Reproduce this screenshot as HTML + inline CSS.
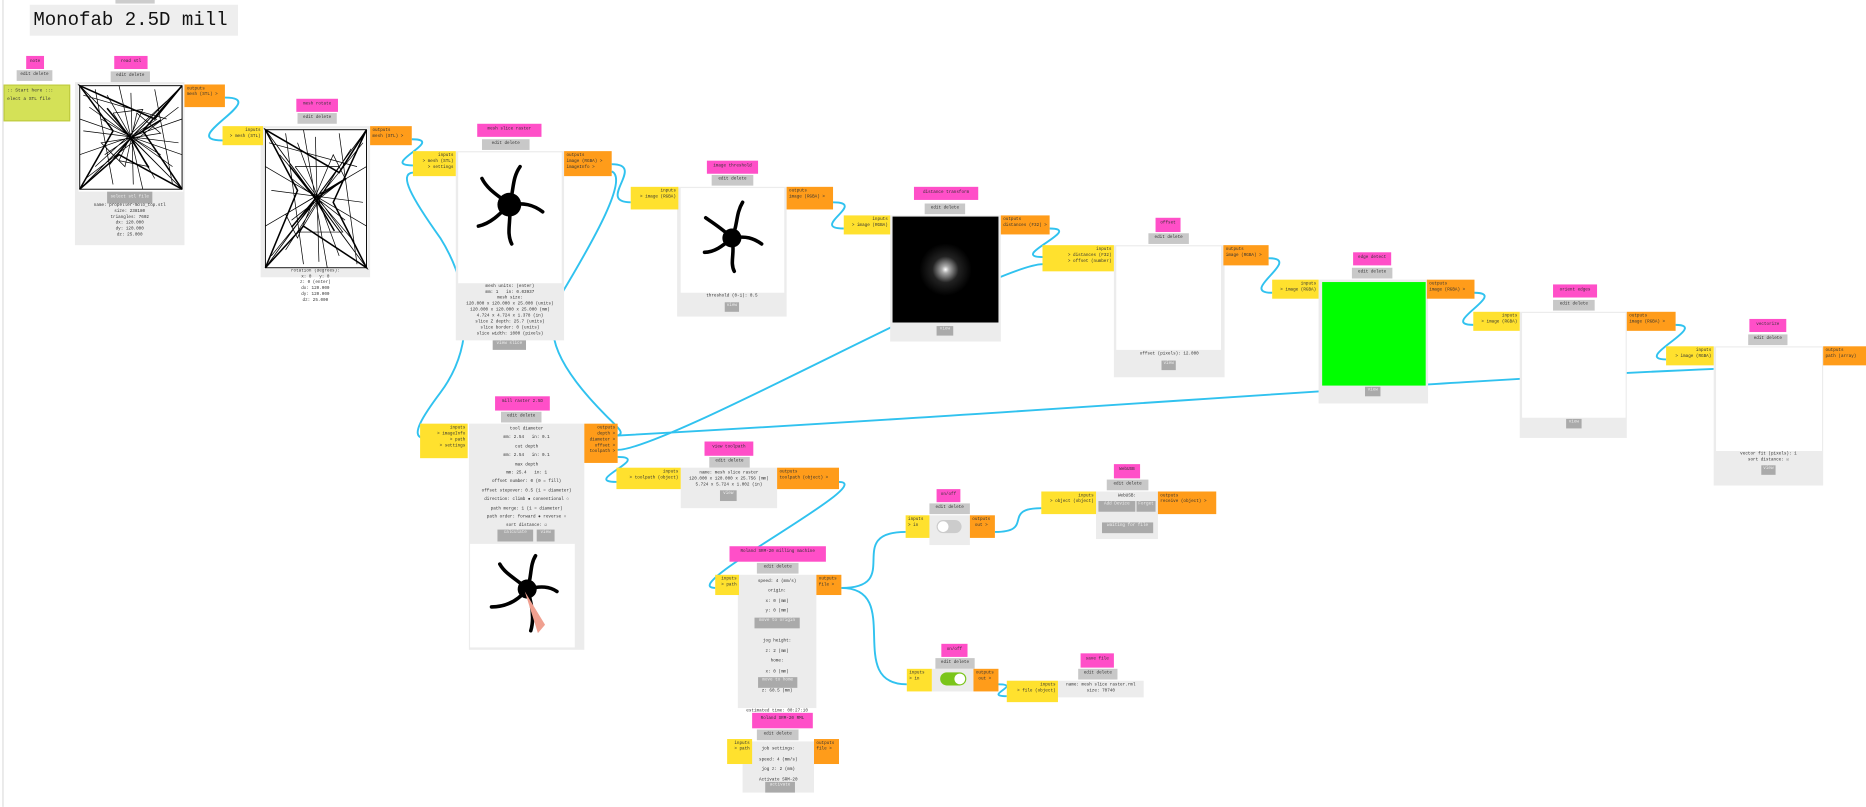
<!DOCTYPE html>
<html><head><meta charset="utf-8"><style>
html,body{margin:0;padding:0;width:1866px;height:807px;overflow:hidden;background:#fff}
#w{position:absolute;left:0;top:0;width:1568px;height:678px;transform:scale(1.19006);transform-origin:0 0;font-family:"Liberation Mono",monospace;font-size:3.6px;color:#333}
#w div{position:absolute;box-sizing:border-box}
.p{background:#ff4fc8;text-align:center;line-height:10px;color:#333}
.g{background:#c8c8c8;text-align:center;line-height:8px}
.pn{background:#ececec;text-align:center;line-height:5px}
.im{background:#fff}
.i{background:#ffe12e;text-align:right;padding:2px 2px;line-height:5px}
.o{background:#ff9c1a;text-align:left;padding:2px 2px;line-height:5px}
.b{background:#aaa;color:#eee;text-align:center;line-height:7px}
svg{position:absolute;left:0;top:0}
</style></head><body><div id="w">
<svg width="1568" height="678" viewBox="0 0 1568 678">
<g stroke="#30c2ef" stroke-width="1.6" fill="none">
<path d="M189 82C229 82 147 118 187 118"/>
<path d="M346 117C376 117 317 139 347 139"/>
<path d="M514 138C544 138 500 170 530 170"/>
<path d="M700 170C730 170 679 192 709 192"/>
<path d="M882 192C912 192 846 216 876 216"/>
<path d="M1066 217C1096 217 1039 246 1069 246"/>
<path d="M1239 246C1269 246 1208 273 1238 273"/>
<path d="M1408 273C1438 273 1370 302 1400 302"/>
<path d="M514 144C528 150 500 200 470 250C455 280 470 310 510 350C520 360 525 364 519 366"/>
<path d="M347 145C335 146 345 165 370 200C395 240 400 290 370 330C355 350 345 366 355 368"/>
<path d="M519 378C560 378 836 222 876 222"/>
<path d="M519 366C900 345 1200 320 1440 310"/>
<path d="M519 384C549 384 488 405 518 405"/>
<path d="M705 405C740 405 566 494 601 494"/>
<path d="M707 494C760 494 708 447 761 447"/>
<path d="M707 494C760 494 709 575 762 575"/>
<path d="M836 447C870 447 841 427 875 427"/>
<path d="M839 575C860 575 825 585 846 585"/>
</g>
</svg>
<div style="left:2px;top:0;width:1px;height:678px;background:#ddd"></div>
<div style="left:97px;top:0;width:33px;height:3px;background:#ccc"></div>
<div style="left:25px;top:4px;width:175px;height:26px;background:#eee;font-size:16px;line-height:26px;padding-left:3px;color:#111;white-space:nowrap">Monofab 2.5D mill</div>

<div class="p" style="left:22px;top:47px;width:15px;height:11px">note</div>
<div class="g" style="left:14px;top:59px;width:30px;height:9px">edit delete</div>
<div style="left:3px;top:71px;width:56px;height:31px;background:#d4e157;border:1px solid #c0cc40;padding:2px;line-height:7px;font-size:3.8px">:: Start here :::<br>elect a STL file</div>

<div class="p" style="left:96px;top:47px;width:28px;height:11px">read stl</div>
<div class="g" style="left:93px;top:60px;width:33px;height:9px">edit delete</div>
<div class="pn" style="left:63px;top:69px;width:92px;height:137px;padding-top:92px">
<div class="b" style="position:relative;left:27px;width:38px;height:10px;line-height:10px">select stl file</div>
name: propeller-molo_top.stl<br>size: 238180<br>triangles: 7602<br>dx: 120.000<br>dy: 120.000<br>dz: 25.000</div>
<div class="im" style="left:66px;top:71px;width:88px;height:90px"></div>
<div class="o" style="left:155px;top:71px;width:34px;height:19px">outputs<br>mesh (STL) &gt;</div>

<div class="p" style="left:249px;top:83px;width:35px;height:11px">mesh rotate</div>
<div class="g" style="left:250px;top:95px;width:33px;height:9px">edit delete</div>
<div class="pn" style="left:219px;top:106px;width:92px;height:127px;padding-top:120px">rotation (degrees):<br>x: 0 &nbsp; y: 0<br>z: 0 (enter)<br>dx: 120.000<br>dy: 120.000<br>dz: 25.000</div>
<div class="im" style="left:222px;top:108px;width:87px;height:118px"></div>
<div class="i" style="left:187px;top:106px;width:34px;height:16px">inputs<br>&gt; mesh (STL)</div>
<div class="o" style="left:311px;top:106px;width:35px;height:16px">outputs<br>mesh (STL) &gt;</div>

<div class="p" style="left:401px;top:104px;width:54px;height:11px">mesh slice raster</div>
<div class="g" style="left:405px;top:117px;width:40px;height:9px">edit delete</div>
<div class="pn" style="left:383px;top:127px;width:91px;height:159px;padding-top:112px">mesh units: (enter)<br>mm: 1 &nbsp; in: 0.03937<br>mesh size:<br>120.000 x 120.000 x 25.000 (units)<br>120.000 x 120.000 x 25.000 (mm)<br>4.724 x 4.724 x 1.378 (in)<br>slice Z depth: 25.7 (units)<br>slice border: 0 (units)<br>slice width: 1000 (pixels)
<div class="b" style="position:relative;left:31px;width:28px;height:8px;margin-top:2px">view slice</div></div>
<div class="im" style="left:385px;top:128px;width:87px;height:110px"></div>
<div class="i" style="left:347px;top:127px;width:36px;height:21px">inputs<br>&gt; mesh (STL)<br>&gt; settings</div>
<div class="o" style="left:474px;top:127px;width:40px;height:21px">outputs<br>image (RGBA) &gt;<br>imageInfo &gt;</div>

<div class="p" style="left:594px;top:135px;width:43px;height:11px">image threshold</div>
<div class="g" style="left:598px;top:147px;width:35px;height:9px">edit delete</div>
<div class="pn" style="left:569px;top:157px;width:92px;height:109px;padding-top:90px">threshold (0-1): 0.5
<div class="b" style="position:relative;left:40px;width:12px;height:8px;margin-top:2px">view</div></div>
<div class="im" style="left:572px;top:158px;width:87px;height:88px"></div>
<div class="i" style="left:530px;top:157px;width:40px;height:19px">inputs<br>&gt; image (RGBA)</div>
<div class="o" style="left:661px;top:157px;width:39px;height:19px">outputs<br>image (RGBA) &gt;</div>

<div class="p" style="left:768px;top:157px;width:54px;height:11px">distance transform</div>
<div class="g" style="left:777px;top:171px;width:34px;height:9px">edit delete</div>
<div class="pn" style="left:748px;top:181px;width:93px;height:106px"><div class="b" style="left:39px;top:93px;width:14px;height:8px">view</div></div>
<div style="left:750px;top:182px;width:89px;height:89px;background:radial-gradient(circle at 50% 50%,#fff 0,#aaa 3px,#222 11px,#000 22px)"></div>
<div class="i" style="left:709px;top:181px;width:39px;height:16px">inputs<br>&gt; image (RGBA)</div>
<div class="o" style="left:841px;top:181px;width:41px;height:16px">outputs<br>distances (F32) &gt;</div>

<div class="p" style="left:971px;top:183px;width:21px;height:12px">offset</div>
<div class="g" style="left:965px;top:196px;width:34px;height:9px">edit delete</div>
<div class="pn" style="left:936px;top:206px;width:93px;height:111px;padding-top:90px">offset (pixels): 12.000
<div class="b" style="position:relative;left:40px;width:12px;height:8px;margin-top:2px">view</div></div>
<div class="im" style="left:938px;top:207px;width:88px;height:87px"></div>
<div class="i" style="left:876px;top:206px;width:60px;height:22px">inputs<br>&gt; distances (F32)<br>&gt; offset (number)</div>
<div class="o" style="left:1028px;top:206px;width:38px;height:17px">outputs<br>image (RGBA) &gt;</div>

<div class="p" style="left:1137px;top:212px;width:32px;height:11px">edge detect</div>
<div class="g" style="left:1136px;top:225px;width:34px;height:9px">edit delete</div>
<div class="pn" style="left:1108px;top:235px;width:92px;height:104px"><div class="b" style="left:39px;top:90px;width:13px;height:8px">view</div></div>
<div style="left:1111px;top:237px;width:87px;height:87px;background:#00ff00"></div>
<div class="i" style="left:1069px;top:235px;width:39px;height:16px">inputs<br>&gt; image (RGBA)</div>
<div class="o" style="left:1199px;top:235px;width:40px;height:16px">outputs<br>image (RGBA) &gt;</div>

<div class="p" style="left:1305px;top:239px;width:37px;height:11px">orient edges</div>
<div class="g" style="left:1305px;top:252px;width:35px;height:9px">edit delete</div>
<div class="pn" style="left:1277px;top:262px;width:90px;height:106px"><div class="b" style="left:39px;top:90px;width:13px;height:8px">view</div></div>
<div class="im" style="left:1279px;top:263px;width:87px;height:88px"></div>
<div class="i" style="left:1238px;top:262px;width:39px;height:16px">inputs<br>&gt; image (RGBA)</div>
<div class="o" style="left:1367px;top:262px;width:41px;height:16px">outputs<br>image (RGBA) &gt;</div>

<div class="p" style="left:1470px;top:268px;width:31px;height:11px">vectorize</div>
<div class="g" style="left:1469px;top:281px;width:33px;height:9px">edit delete</div>
<div class="pn" style="left:1440px;top:291px;width:92px;height:117px;padding-top:89px">vector fit (pixels): 1<br>sort distance: &#9745;
<div class="b" style="position:relative;left:40px;width:12px;height:8px;margin-top:1px">view</div></div>
<div class="im" style="left:1442px;top:292px;width:89px;height:87px"></div>
<div class="i" style="left:1400px;top:291px;width:40px;height:16px">inputs<br>&gt; image (RGBA)</div>
<div class="o" style="left:1532px;top:291px;width:36px;height:16px">outputs<br>path (array)</div>

<div class="p" style="left:416px;top:333px;width:46px;height:12px">mill raster 2.5D</div>
<div class="g" style="left:421px;top:346px;width:34px;height:9px">edit delete</div>
<div class="pn" style="left:394px;top:356px;width:97px;height:190px;padding-top:2px;line-height:7.4px">tool diameter<br>mm: 2.54 &nbsp; in: 0.1<br>cut depth<br>mm: 2.54 &nbsp; in: 0.1<br>max depth<br>mm: 25.4 &nbsp; in: 1<br>offset number: 0 (0 = fill)<br>offset stepover: 0.5 (1 = diameter)<br>direction: climb &#9679; conventional &#9675;<br>path merge: 1 (1 = diameter)<br>path order: forward &#9679; reverse &#9675;<br>sort distance: &#9745;
<div class="b" style="left:24px;top:89px;width:30px;height:10px">calculate</div><div class="b" style="left:57px;top:89px;width:15px;height:10px">view</div></div>
<div class="im" style="left:395px;top:457px;width:88px;height:87px"></div>
<div class="i" style="left:353px;top:356px;width:40px;height:29px">inputs<br>&gt; imageInfo<br>&gt; path<br>&gt; settings</div>
<div class="o" style="left:491px;top:356px;width:28px;height:33px;text-align:right">outputs<br>depth &gt;<br>diameter &gt;<br>offset &gt;<br>toolpath &gt;</div>

<div class="p" style="left:592px;top:371px;width:41px;height:12px">view toolpath</div>
<div class="g" style="left:596px;top:384px;width:34px;height:9px">edit delete</div>
<div class="pn" style="left:572px;top:393px;width:81px;height:34px;padding-top:3px">name: mesh slice raster<br>120.000 x 120.000 x 25.756 (mm)<br>5.724 x 5.724 x 1.002 (in)
<div class="b" style="position:relative;left:33px;width:14px;height:9px;margin-top:1px">view</div></div>
<div class="i" style="left:518px;top:393px;width:54px;height:18px">inputs<br>&gt; toolpath (object)</div>
<div class="o" style="left:653px;top:393px;width:52px;height:18px">outputs<br>toolpath (object) &gt;</div>

<div class="p" style="left:613px;top:459px;width:81px;height:13px">Roland SRM-20 milling machine</div>
<div class="g" style="left:636px;top:473px;width:35px;height:9px">edit delete</div>
<div class="pn" style="left:620px;top:483px;width:66px;height:112px;padding-top:2px;line-height:8.4px">speed: 4 (mm/s)<br>origin:<br>x: 0 (mm)<br>y: 0 (mm)<br>z: 0 (mm)<br><br>jog height:<br>z: 2 (mm)<br>home:<br>x: 0 (mm)<br>y: 152.4 (mm)<br>z: 60.5 (mm)<br><br>estimated time: 00:27:10
<div class="b" style="left:14px;top:36px;width:38px;height:9px">move to origin</div><div class="b" style="left:17px;top:86px;width:33px;height:9px">move to home</div></div>
<div class="i" style="left:601px;top:483px;width:20px;height:17px">inputs<br>&gt; path</div>
<div class="o" style="left:686px;top:483px;width:21px;height:17px">outputs<br>file &gt;</div>

<div class="p" style="left:632px;top:599px;width:51px;height:13px">Roland SRM-20 RML</div>
<div class="g" style="left:636px;top:613px;width:35px;height:9px">edit delete</div>
<div class="pn" style="left:624px;top:623px;width:60px;height:43px;padding-top:3px;line-height:8.5px">job settings:<br>speed: 4 (mm/s)<br>jog z: 2 (mm)<br>Activate SRM-20
<div class="b" style="position:relative;left:19px;width:25px;height:9px;margin-top:-3px">activate</div></div>
<div class="i" style="left:611px;top:621px;width:21px;height:21px">inputs<br>&gt; path</div>
<div class="o" style="left:684px;top:621px;width:21px;height:21px">outputs<br>file &gt;</div>

<div class="p" style="left:787px;top:411px;width:20px;height:11px">on/off</div>
<div class="g" style="left:781px;top:423px;width:34px;height:9px">edit delete</div>
<div class="pn" style="left:781px;top:433px;width:34px;height:25px"><div style="left:6px;top:4px;width:21px;height:11px;border-radius:6px;background:#ccc"><div style="left:1px;top:1px;width:9px;height:9px;border-radius:5px;background:#fff"></div></div></div>
<div class="i" style="left:761px;top:433px;width:20px;height:19px;text-align:left">inputs<br>&gt; in</div>
<div class="o" style="left:815px;top:433px;width:21px;height:19px">outputs<br>&nbsp;out &gt;</div>

<div class="p" style="left:936px;top:390px;width:22px;height:12px">WebUSB</div>
<div class="g" style="left:930px;top:403px;width:35px;height:9px">edit delete</div>
<div class="pn" style="left:921px;top:413px;width:52px;height:40px;padding-top:2px">WebUSB:
<div class="b" style="left:2px;top:8px;width:31px;height:9px">Add Device</div><div class="b" style="left:34px;top:8px;width:16px;height:9px">Forget</div><div class="b" style="left:5px;top:26px;width:43px;height:9px">waiting for file</div></div>
<div class="i" style="left:875px;top:413px;width:46px;height:19px">inputs<br>&gt; object (object)</div>
<div class="o" style="left:973px;top:413px;width:49px;height:19px">outputs<br>receive (object) &gt;</div>

<div class="p" style="left:791px;top:541px;width:22px;height:11px">on/off</div>
<div class="g" style="left:786px;top:553px;width:33px;height:9px">edit delete</div>
<div class="pn" style="left:783px;top:562px;width:35px;height:19px"><div style="left:7px;top:3px;width:22px;height:11px;border-radius:6px;background:#7ac51a"><div style="left:12px;top:1px;width:9px;height:9px;border-radius:5px;background:#fff"></div></div></div>
<div class="i" style="left:762px;top:562px;width:21px;height:19px;text-align:left">inputs<br>&gt; in</div>
<div class="o" style="left:818px;top:562px;width:21px;height:19px">outputs<br>&nbsp;out &gt;</div>

<div class="p" style="left:908px;top:549px;width:28px;height:12px">save file</div>
<div class="g" style="left:906px;top:562px;width:33px;height:9px">edit delete</div>
<div class="pn" style="left:889px;top:572px;width:72px;height:14px;padding-top:2px">name: mesh slice raster.rml<br>size: 70740</div>
<div class="i" style="left:846px;top:572px;width:43px;height:18px">inputs<br>&gt; file (object)</div>

<svg width="1568" height="678" viewBox="0 0 1568 678">
<g stroke="#000" stroke-width="0.4" fill="none">
<rect x="67" y="72" width="86" height="87" stroke-width="0.8"/>
<path d="M67 72L153 159M153 72L67 159M67 72L110 116L153 72M67 159L110 116L153 159M75 90L145 140M90 80L130 150M70 110L150 120M110 78L112 155M80 140L140 85M95 95L125 140L100 135L120 92L95 95M85 120L135 112L115 95L105 140Z M70 80L140 100M72 150L150 90M80 75L95 155M130 75L145 155M67 100L153 130M67 130L153 100M100 72L120 159M85 100L135 130M88 130L132 100" stroke-width="0.6"/>
<path d="M67 72L130 100L153 72L120 110L153 159L100 130L67 159L95 110Z M110 116l-20 -25 M110 116l25 -15 M110 116l-18 22 M110 116l15 25" stroke-width="1.3"/>
<rect x="223" y="109" width="85" height="116" stroke-width="0.8"/>
<path d="M223 109L308 225M308 109L223 225M223 109L265 167L308 109M223 225L265 167L308 225M235 130L295 200M250 120L285 215M228 160L305 170M265 115L268 220M240 210L295 125M248 140L288 195L252 195L285 140L248 140M240 180L290 150L280 130L250 200Z M226 120L300 140M228 215L305 120M240 112L255 222M285 112L300 222M223 140L308 190M223 190L308 140M255 109L275 225M245 150L290 185M245 185L290 150" stroke-width="0.6"/>
<path d="M223 109L285 145L308 109L280 170L308 225L255 190L223 225L250 160Z M265 167l-22 -28 M265 167l26 -17 M265 167l-20 24 M265 167l16 27" stroke-width="1.3"/>
</g>
<g stroke="#000" stroke-width="3" fill="none" stroke-linecap="round">
<circle cx="428" cy="172" r="10" fill="#000" stroke="none"/>
<path d="M428 172C420 165 410 160 405 150M428 172C432 160 430 150 437 140M428 172C440 170 448 172 456 178M428 172C430 185 425 195 430 205M428 172C420 180 412 188 402 190"/>
<circle cx="615" cy="200" r="8" fill="#000" stroke="none"/>
<path d="M615 200C608 193 600 188 593 183M615 200C620 190 618 180 624 170M615 200C627 198 633 200 640 205M615 200C618 212 613 220 617 228M615 200C607 207 600 212 592 212"/>
<circle cx="443" cy="495" r="8" fill="#000" stroke="none"/>
<path d="M443 495C435 487 425 483 420 474M443 495C447 485 445 475 450 467M443 495C455 492 462 493 468 497M443 495C447 507 449 520 446 530M443 495C435 505 425 510 413 510"/>
</g>
<path d="M441 497L458 525L452 532Z" fill="#f0a090"/>
</svg>
</div></body></html>
